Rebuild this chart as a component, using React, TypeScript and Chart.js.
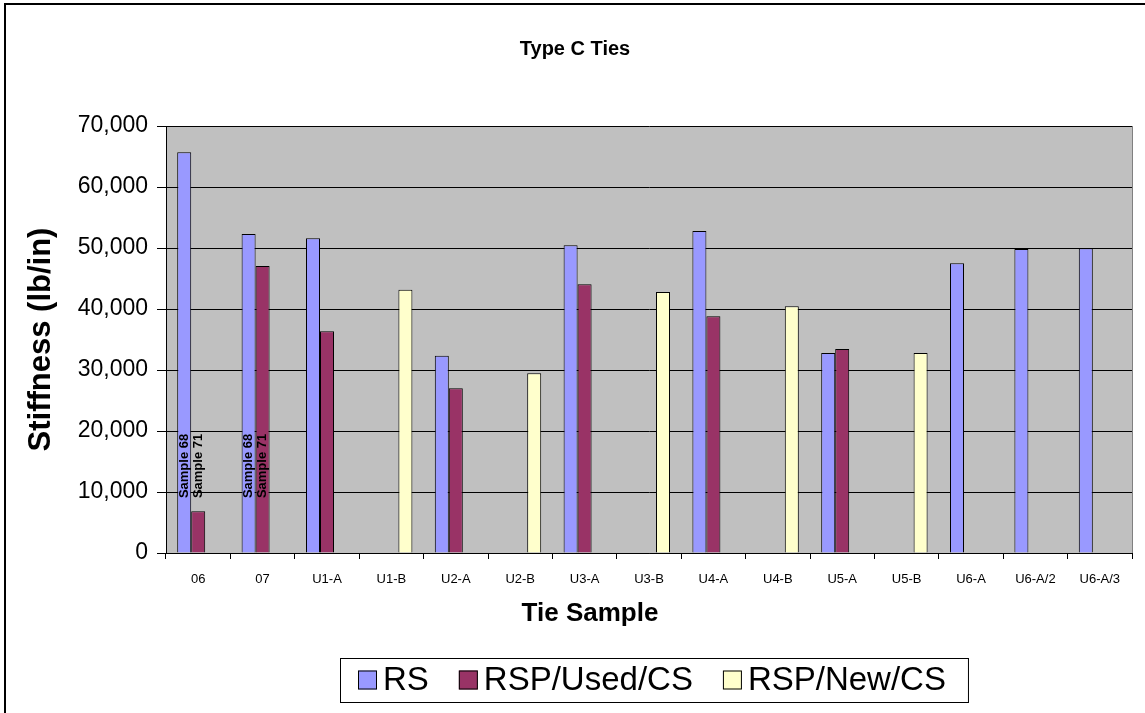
import React, { useEffect, useRef } from "react";
import { Chart, registerables } from "chart.js";

Chart.register(...registerables);

const categories = ["06", "07", "U1-A", "U1-B", "U2-A", "U2-B", "U3-A", "U3-B", "U4-A", "U4-B", "U5-A", "U5-B", "U6-A", "U6-A/2", "U6-A/3"];
const rsValues = [65700, 52300, 51600, null, 32350, null, 50450, null, 52800, null, 32800, null, 47500, 49850, 49950];
const usedValues = [6850, 47050, 36350, null, 27000, null, 44050, null, 38800, null, 33450, null, null, null, null];
const newValues = [null, null, null, 43150, null, 29450, null, 42800, null, 40450, null, 32800, null, null, null];
const seriesLabels = ["RS", "RSP/Used/CS", "RSP/New/CS"];
const seriesColors = ["#9999FF", "#993366", "#FFFFCC"];
const yTicks = [0, 10000, 20000, 30000, 40000, 50000, 60000, 70000];

// vertical notes inside bars
const noteCats = [0, 0, 1, 1];
const noteSets = [0, 1, 0, 1];
const noteTexts = ["Sample 68", "Sample 71", "Sample 68", "Sample 71"];
const noteStart = 9000;

const FONT = "'Liberation Sans', Arial, sans-serif";

const decorPlugin = {
  id: "decor",
  beforeDraw(chart: any) {
    const { ctx, chartArea: a } = chart;
    ctx.save();
    ctx.fillStyle = "#ffffff";
    ctx.fillRect(0, 0, chart.width, chart.height);
    ctx.fillStyle = "#C0C0C0";
    ctx.fillRect(a.left, a.top, a.right - a.left, a.bottom - a.top);
    ctx.strokeStyle = "#808080";
    ctx.lineWidth = 1;
    ctx.beginPath();
    ctx.moveTo(a.right + 0.5, a.top);
    ctx.lineTo(a.right + 0.5, a.bottom);
    ctx.stroke();
    ctx.restore();
  },
  afterDraw(chart: any) {
    const { ctx } = chart;
    ctx.save();
    // outer frame (left & top visible)
    ctx.strokeStyle = "#000";
    ctx.lineWidth = 2;
    ctx.beginPath();
    ctx.moveTo(5, chart.height + 5);
    ctx.lineTo(5, 4);
    ctx.lineTo(chart.width + 5, 4);
    ctx.stroke();

    // title
    ctx.fillStyle = "#000";
    ctx.font = `bold 20px ${FONT}`;
    ctx.textAlign = "center";
    ctx.textBaseline = "middle";
    ctx.fillText("Type C Ties", 575, 49);

    // x axis title
    ctx.font = `bold 26px ${FONT}`;
    ctx.fillText("Tie Sample", 590, 614);

    // notes
    const y = chart.scales.y;
    ctx.font = `bold 13px ${FONT}`;
    ctx.textAlign = "left";
    ctx.textBaseline = "middle";
    for (let i = 0; i < noteTexts.length; i++) {
      const bar = chart.getDatasetMeta(noteSets[i]).data[noteCats[i]];
      if (!bar) continue;
      ctx.save();
      ctx.translate(bar.x, y.getPixelForValue(noteStart));
      ctx.rotate(-Math.PI / 2);
      ctx.fillText(noteTexts[i], 0, 0);
      ctx.restore();
    }

    // legend
    const ds = chart.data.datasets;
    ctx.font = `33px ${FONT}`;
    ctx.textBaseline = "middle";
    const boxLeft = 340, boxTop = 658, boxH = 44;
    const box = 19, gapText = 6, gapItem = 30;
    let x = boxLeft + 18;
    const cy = boxTop + boxH / 2;
    for (let i = 0; i < ds.length; i++) {
      ctx.fillStyle = ds[i].backgroundColor;
      ctx.fillRect(x, cy - box / 2, box, box);
      ctx.strokeStyle = "#000";
      ctx.lineWidth = 1;
      ctx.strokeRect(x + 0.5, cy - box / 2 + 0.5, box - 1, box - 1);
      ctx.fillStyle = "#000";
      ctx.fillText(ds[i].label, x + box + gapText, cy + 1);
      x += box + gapText + ctx.measureText(ds[i].label).width + gapItem;
    }
    const boxRight = x - gapItem + 22;
    ctx.strokeStyle = "#000";
    ctx.lineWidth = 1;
    ctx.strokeRect(boxLeft + 0.5, boxTop + 0.5, boxRight - boxLeft, boxH);
    ctx.restore();
  },
};

export default function App() {
  const ref = useRef<HTMLCanvasElement | null>(null);
  useEffect(() => {
    if (!ref.current) return;
    const data = [rsValues, usedValues, newValues];
    const chart = new Chart(ref.current, {
      type: "bar",
      data: {
        labels: categories,
        datasets: data.map((d, i) => ({
          label: seriesLabels[i],
          data: d,
          backgroundColor: seriesColors[i],
          borderColor: "#000",
          borderWidth: 1,
          categoryPercentage: 0.652,
          barPercentage: 1,
        })),
      },
      options: {
        animation: false,
        responsive: false,
        devicePixelRatio: 1,
        layout: { padding: { left: 20, right: 13, top: 126, bottom: 0 } },
        plugins: { legend: { display: false }, title: { display: false }, tooltip: { enabled: false } },
        scales: {
          x: {
            afterFit: (s: any) => { s.height = 160; },
            grid: { display: true, drawOnChartArea: false, drawTicks: true, tickLength: 6, color: "#000", offset: true },
            border: { display: true, color: "#000", width: 1 },
            ticks: { font: { family: FONT, size: 13 }, color: "#000", padding: 13, maxRotation: 0, autoSkip: false },
          },
          y: {
            min: 0,
            max: 70000,
            afterFit: (s: any) => { s.width = 146; },
            afterBuildTicks: (s: any) => { s.ticks = yTicks.map((v) => ({ value: v })); },
            grid: { color: "#000", lineWidth: 1, tickLength: 9, drawTicks: true },
            border: { display: true, color: "#000", width: 1 },
            ticks: { font: { family: FONT, size: 23 }, color: "#000", padding: 9, callback: (v: any) => Number(v).toLocaleString("en-US") },
            title: { display: true, text: "Stiffness (lb/in)", color: "#000", font: { family: FONT, size: 31, weight: "bold" }, padding: { top: 3, bottom: 0 } },
          },
        },
      },
      plugins: [decorPlugin],
    });
    return () => chart.destroy();
  }, []);
  return (
    <div style={{ position: "absolute", left: 0, top: 0, width: 1145, height: 713, overflow: "hidden" }}>
      <canvas ref={ref} width={1145} height={713} style={{ display: "block" }} />
    </div>
  );
}
